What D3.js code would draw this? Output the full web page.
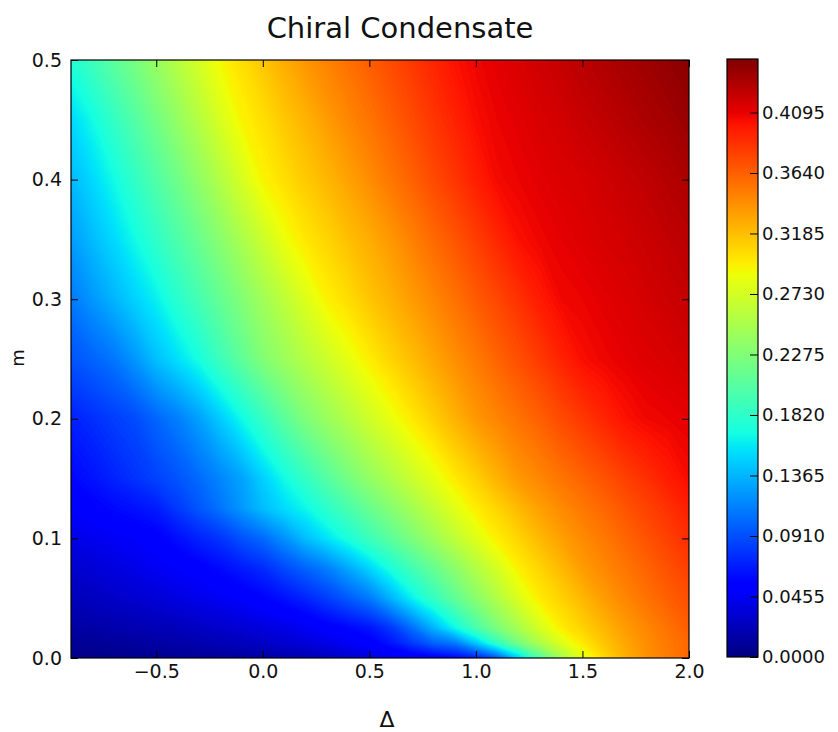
<!DOCTYPE html>
<html>
<head>
<meta charset="utf-8">
<script src="https://cdn.jsdelivr.net/npm/d3@7"></script>
<style>
  body { margin: 0; background: #fff; }
  svg text { font-family: "DejaVu Sans", sans-serif; fill: #111; }
</style>
</head>
<body>
<svg id="chart" width="838" height="732"></svg>
<script>
// grid nodes
const deltaValues = [-0.9, -0.8, -0.7, -0.6, -0.5, -0.4, -0.3, -0.2, -0.1, 0.0,
  0.1, 0.2, 0.3, 0.4, 0.5, 0.6, 0.7, 0.8, 0.9, 1.0,
  1.1, 1.2, 1.3, 1.4, 1.5, 1.6, 1.7, 1.8, 1.9, 2.0];
const mValues = [0, 0.0125, 0.025, 0.05, 0.075, 0.1, 0.125, 0.15, 0.2, 0.25, 0.3, 0.35, 0.4, 0.45, 0.5];

// chiral condensate, one row per m value (bottom to top), one column per delta
const condensate = [
  [.003,.004,.005,.006,.007,.008,.009,.010,.012,.014,.017,.020,.024,.030,.036,.042,.047,.052,.058,.068,.095,.145,.200,.245,.280,.305,.325,.340,.350,.360],
  [.008,.009,.010,.012,.014,.016,.018,.021,.024,.027,.031,.035,.040,.046,.052,.065,.082,.100,.110,.145,.185,.222,.252,.278,.298,.315,.330,.342,.352,.360],
  [.013,.015,.017,.019,.021,.023,.026,.029,.032,.036,.040,.045,.052,.058,.065,.080,.105,.135,.165,.196,.225,.249,.274,.296,.309,.322,.335,.345,.355,.365],
  [.022,.025,.028,.031,.034,.038,.042,.046,.050,.056,.063,.072,.083,.096,.110,.135,.162,.185,.209,.232,.254,.277,.297,.309,.322,.335,.345,.355,.364,.372],
  [.030,.033,.037,.041,.045,.049,.053,.060,.067,.075,.088,.100,.112,.130,.150,.172,.193,.213,.233,.254,.274,.295,.308,.321,.335,.344,.353,.362,.371,.380],
  [.040,.043,.046,.049,.053,.062,.071,.079,.092,.103,.120,.140,.156,.172,.190,.207,.225,.243,.261,.279,.296,.308,.321,.333,.343,.352,.361,.370,.379,.388],
  [.050,.054,.059,.063,.068,.081,.094,.107,.123,.140,.153,.165,.181,.197,.214,.230,.246,.263,.280,.296,.308,.321,.333,.343,.352,.360,.369,.378,.386,.395],
  [.058,.064,.071,.078,.085,.093,.103,.115,.128,.148,.167,.185,.203,.221,.237,.252,.267,.282,.297,.310,.324,.337,.345,.354,.362,.370,.379,.387,.396,.404],
  [.070,.076,.083,.089,.101,.112,.127,.146,.166,.186,.207,.226,.241,.255,.270,.284,.298,.311,.324,.337,.346,.355,.364,.374,.383,.392,.401,.406,.408,.410],
  [.093,.100,.108,.123,.141,.155,.170,.190,.209,.228,.242,.256,.269,.283,.296,.308,.319,.330,.341,.351,.362,.372,.382,.393,.403,.407,.410,.413,.415,.418],
  [.110,.123,.136,.149,.162,.179,.195,.212,.228,.245,.261,.278,.294,.304,.315,.325,.335,.345,.355,.366,.376,.386,.397,.406,.408,.411,.414,.417,.420,.423],
  [.125,.139,.152,.167,.183,.199,.215,.232,.250,.268,.286,.299,.308,.318,.327,.337,.348,.359,.369,.380,.391,.402,.407,.410,.413,.416,.418,.421,.424,.427],
  [.138,.152,.167,.184,.201,.218,.236,.255,.274,.293,.303,.313,.322,.332,.342,.353,.363,.374,.384,.395,.405,.408,.411,.414,.416,.419,.422,.425,.429,.433],
  [.152,.167,.185,.202,.220,.238,.256,.275,.293,.303,.314,.324,.335,.345,.354,.364,.374,.384,.393,.403,.408,.411,.415,.418,.422,.425,.429,.433,.436,.440],
  [.175,.191,.207,.223,.240,.257,.274,.291,.303,.315,.327,.338,.347,.356,.365,.374,.383,.392,.401,.407,.411,.415,.419,.423,.427,.431,.435,.438,.442,.446]
];

const xTicks = [-0.5, 0.0, 0.5, 1.0, 1.5, 2.0];
const yTicks = [0.0, 0.1, 0.2, 0.3, 0.4, 0.5];
const cbarTicks = [0.0000, 0.0455, 0.0910, 0.1365, 0.1820, 0.2275, 0.2730, 0.3185, 0.3640, 0.4095];
const vmin = 0, vmax = 0.4497;

// matplotlib jet
const jetStops = [0, 0.11, 0.125, 0.34, 0.35, 0.375, 0.64, 0.65, 0.66, 0.89, 0.91, 1];
const jetColors = ['rgb(0,0,128)', 'rgb(0,0,255)', 'rgb(0,0,255)', 'rgb(0,219,255)', 'rgb(0,230,247)',
  'rgb(21,255,226)', 'rgb(238,255,8)', 'rgb(247,246,0)', 'rgb(255,236,0)', 'rgb(255,19,0)',
  'rgb(232,0,0)', 'rgb(128,0,0)'];

const plot = {left: 71, top: 60, right: 689, bottom: 658};
const cbar = {left: 727, right: 758, top: 59, bottom: 657};

const svg = d3.select('#chart');

const x = d3.scaleLinear().domain([-0.9, 2.0]).range([plot.left, plot.right]);
const y = d3.scaleLinear().domain([0, 0.5]).range([plot.bottom, plot.top]);
const color = d3.scaleLinear()
  .domain(jetStops.map(t => vmin + t * (vmax - vmin)))
  .range(jetColors)
  .interpolate(d3.interpolateRgb)
  .clamp(true);

// heat map as stacked filled contours of the grid
const nx = deltaValues.length, ny = mValues.length;
const step = 0.002;
const levels = d3.range(0, vmax, step);
const contours = d3.contours().size([nx, ny]).thresholds(levels)(condensate.flat());

const gx = d3.scaleLinear()
  .domain(deltaValues.map((d, i) => i + 0.5))
  .range(deltaValues.map(x));
const gy = d3.scaleLinear()
  .domain(mValues.map((d, i) => i + 0.5))
  .range(mValues.map(y));
const path = d3.geoPath(d3.geoTransform({
  point(px, py) { this.stream.point(gx(px), gy(py)); }
}));

const defs = svg.append('defs');
defs.append('clipPath').attr('id', 'plotClip')
  .append('rect')
  .attr('x', plot.left).attr('y', plot.top)
  .attr('width', plot.right - plot.left).attr('height', plot.bottom - plot.top);

svg.append('g')
  .attr('clip-path', 'url(#plotClip)')
  .selectAll('path')
  .data(contours)
  .join('path')
  .attr('d', path)
  .attr('fill', d => color(d.value + step / 2));

// axes, matplotlib classic style: ticks inside on all four sides
const fmt1 = d3.format('.1f');
function styleAxis(size) {
  return g => {
    g.select('.domain').remove();
    g.selectAll('.tick line').attr('stroke', '#000').attr('stroke-width', 1);
    g.selectAll('.tick text').attr('font-size', size).attr('font-family', '"DejaVu Sans", sans-serif').attr('fill', '#111');
  };
}

svg.append('g')
  .attr('transform', `translate(0,${plot.bottom})`)
  .call(d3.axisBottom(x).tickValues(xTicks).tickFormat(fmt1).tickSize(-7).tickPadding(7))
  .call(styleAxis(19));
svg.append('g')
  .attr('transform', `translate(0,${plot.top})`)
  .call(d3.axisTop(x).tickValues(xTicks).tickFormat('').tickSize(-7))
  .call(styleAxis(19));
svg.append('g')
  .attr('transform', `translate(${plot.left},0)`)
  .call(d3.axisLeft(y).tickValues(yTicks).tickFormat(fmt1).tickSize(-7).tickPadding(9))
  .call(styleAxis(19));
svg.append('g')
  .attr('transform', `translate(${plot.right},0)`)
  .call(d3.axisRight(y).tickValues(yTicks).tickFormat('').tickSize(-7))
  .call(styleAxis(19));

svg.append('rect')
  .attr('x', plot.left).attr('y', plot.top)
  .attr('width', plot.right - plot.left).attr('height', plot.bottom - plot.top)
  .attr('fill', 'none').attr('stroke', '#000').attr('stroke-width', 1.2);

// colorbar
const cy = d3.scaleLinear().domain([vmin, vmax]).range([cbar.bottom, cbar.top]);
const grad = defs.append('linearGradient').attr('id', 'jetGrad')
  .attr('x1', 0).attr('y1', 1).attr('x2', 0).attr('y2', 0);
grad.selectAll('stop')
  .data(jetStops)
  .join('stop')
  .attr('offset', d => d)
  .attr('stop-color', (d, i) => jetColors[i]);

svg.append('rect')
  .attr('x', cbar.left).attr('y', cbar.top)
  .attr('width', cbar.right - cbar.left).attr('height', cbar.bottom - cbar.top)
  .attr('fill', 'url(#jetGrad)')
  .attr('stroke', '#000').attr('stroke-width', 1.2);

svg.append('g')
  .attr('transform', `translate(${cbar.right},0)`)
  .call(d3.axisRight(cy).tickValues(cbarTicks).tickFormat(d3.format('.4f')).tickSize(-8).tickPadding(4))
  .call(styleAxis(18));

// titles
svg.append('text')
  .attr('x', 400).attr('y', 38)
  .attr('text-anchor', 'middle')
  .attr('font-family', '"Open Sans", "Noto Sans", sans-serif')
  .attr('font-size', 29)
  .text('Chiral Condensate');

svg.append('text')
  .attr('x', 387).attr('y', 727)
  .attr('text-anchor', 'middle')
  .attr('font-family', '"Open Sans", "Noto Sans", sans-serif')
  .attr('font-size', 22)
  .text('Δ');

svg.append('text')
  .attr('transform', 'translate(24,358) rotate(-90)')
  .attr('text-anchor', 'middle')
  .attr('font-size', 18)
  .text('m');
</script>
</body>
</html>
